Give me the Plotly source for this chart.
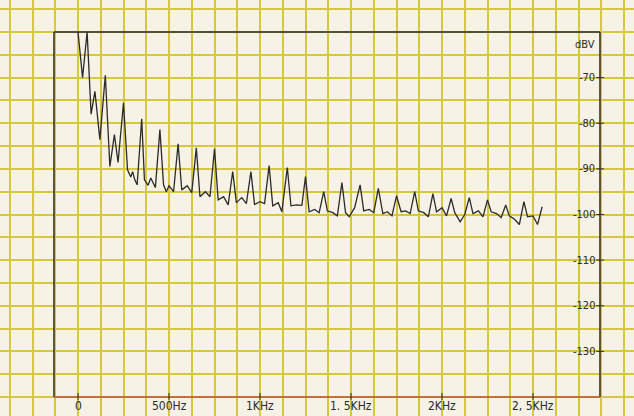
import plotly.graph_objects as go

# Spectrum trace: frequency (Hz) and level (dBV)
freq_hz = [
    0, 25, 50, 72, 93, 120, 150, 175, 200, 220, 250, 272, 290, 300, 312, 325,
    350, 365, 385, 400, 425, 450, 470, 485, 500, 525, 550, 570, 600, 625,
    650, 670, 700, 725, 750, 770, 800, 825, 850, 870, 900, 925,
    950, 970, 1000, 1025, 1050, 1070, 1100, 1120, 1150, 1170, 1200, 1230,
    1250, 1270, 1300, 1325, 1350, 1370, 1400, 1425, 1450, 1470, 1490, 1520,
    1550, 1570, 1600, 1625, 1650, 1675, 1700, 1725, 1750, 1775, 1800, 1825,
    1850, 1870, 1900, 1925, 1950, 1970, 2000, 2025, 2050, 2070, 2100, 2125,
    2150, 2170, 2200, 2225, 2250, 2270, 2300, 2325, 2350, 2370, 2400, 2425,
    2450, 2470, 2500, 2525, 2550,
]
level_dbv = [
    -60, -70, -60, -78, -73, -83.6, -69.5, -89.5, -82.5, -88.6, -75.5, -90.2, -91.8, -90.6, -92.4, -93.5,
    -79.0, -92.4, -93.6, -92.0, -94.1, -81.4, -93.5, -95.0, -93.7, -95.0, -84.5, -94.6, -93.7, -95.2,
    -85.4, -96.1, -95.0, -96.1, -85.6, -96.8, -96.1, -97.9, -90.6, -97.4, -96.3, -97.6,
    -90.6, -97.8, -97.2, -97.6, -89.3, -98.1, -97.4, -99.4, -89.7, -98.1, -97.9, -98.0,
    -91.7, -99.4, -98.9, -99.6, -95.0, -99.2, -99.6, -100.3, -93.0, -99.6, -100.5, -98.5,
    -93.5, -99.2, -98.9, -99.6, -94.3, -99.8, -99.4, -100.3, -95.9, -99.4, -99.2, -99.8,
    -95.0, -99.2, -99.6, -100.5, -95.4, -99.4, -98.5, -100.3, -96.5, -99.6, -101.6, -100.0,
    -96.3, -99.8, -99.2, -100.5, -96.8, -99.4, -99.8, -100.7, -97.9, -100.3, -101.1, -102.2,
    -97.2, -100.5, -100.3, -102.2, -98.3,
]

# Axis ticks and their printed labels
x_ticks = [0, 500, 1000, 1500, 2000, 2500]
x_tick_labels = ["0", "500Hz", "1KHz", "1. 5KHz", "2KHz", "2, 5KHz"]
y_ticks = [-70, -80, -90, -100, -110, -120, -130]
y_tick_labels = ["-70", "-80", "-90", "-100", "-110", "-120", "-130"]
y_unit = "dBV"

# Plot frame (data units) and the extent of the graph paper around it
FRAME_X0, FRAME_X1 = -132, 2868
FRAME_Y0, FRAME_Y1 = -140, -60
PAPER_X = [-428.6, 3054.9]
PAPER_Y = [-144.16, -52.99]

PAPER = "#f6f2e5"
GRID = "#d6c83c"
INK = "#2b2b2b"
BASE = "#b8563a"
FONT = "DejaVu Sans Condensed"

fig = go.Figure()
fig.add_trace(go.Scatter(
    x=freq_hz, y=level_dbv, mode="lines",
    line=dict(color=INK, width=1.3), hoverinfo="x+y", showlegend=False,
))

shapes = [
    dict(type="line", x0=FRAME_X0, x1=FRAME_X0, y0=FRAME_Y0, y1=FRAME_Y1,
         line=dict(color=INK, width=1.5)),
    dict(type="line", x0=FRAME_X0, x1=FRAME_X1, y0=FRAME_Y1, y1=FRAME_Y1,
         line=dict(color=INK, width=1.5)),
    dict(type="line", x0=FRAME_X1, x1=FRAME_X1, y0=FRAME_Y0, y1=FRAME_Y1,
         line=dict(color=INK, width=1.5)),
    dict(type="line", x0=FRAME_X0, x1=FRAME_X1, y0=FRAME_Y0, y1=FRAME_Y0,
         line=dict(color=BASE, width=1.6)),
]
for xv in x_ticks:
    shapes.append(dict(type="line", x0=xv, x1=xv, y0=FRAME_Y0 - 0.6, y1=FRAME_Y0 + 0.9,
                       line=dict(color=INK, width=1)))
for yv in y_ticks:
    shapes.append(dict(type="line", x0=FRAME_X1 - 20, x1=FRAME_X1 + 22, y0=yv, y1=yv,
                       line=dict(color=INK, width=1)))

annotations = []
for xv, lab in zip(x_ticks, x_tick_labels):
    annotations.append(dict(x=xv, y=FRAME_Y0 - 1.97, text=lab, showarrow=False,
                            xanchor="center", yanchor="middle",
                            font=dict(family=FONT, size=12, color=INK)))
for yv, lab in zip(y_ticks, y_tick_labels):
    annotations.append(dict(x=FRAME_X1 - 16, y=yv, text=lab, showarrow=False,
                            xanchor="right", yanchor="middle",
                            font=dict(family=FONT, size=11, color=INK)))
annotations.append(dict(x=FRAME_X1 - 16, y=FRAME_Y1 - 2.85, text=y_unit, showarrow=False,
                        xanchor="right", yanchor="middle",
                        font=dict(family=FONT, size=11, color=INK)))

fig.update_layout(
    width=634, height=416,
    margin=dict(l=0, r=0, t=0, b=0),
    paper_bgcolor=PAPER, plot_bgcolor=PAPER,
    shapes=shapes, annotations=annotations,
    xaxis=dict(range=PAPER_X, tick0=0, dtick=125, showgrid=True, gridcolor=GRID,
               gridwidth=2, zeroline=False, showticklabels=False, ticks="",
               showline=False, fixedrange=True),
    yaxis=dict(range=PAPER_Y, tick0=-60, dtick=5, showgrid=True, gridcolor=GRID,
               gridwidth=2, zeroline=False, showticklabels=False, ticks="",
               showline=False, fixedrange=True),
)

fig.write_html("out.html")
